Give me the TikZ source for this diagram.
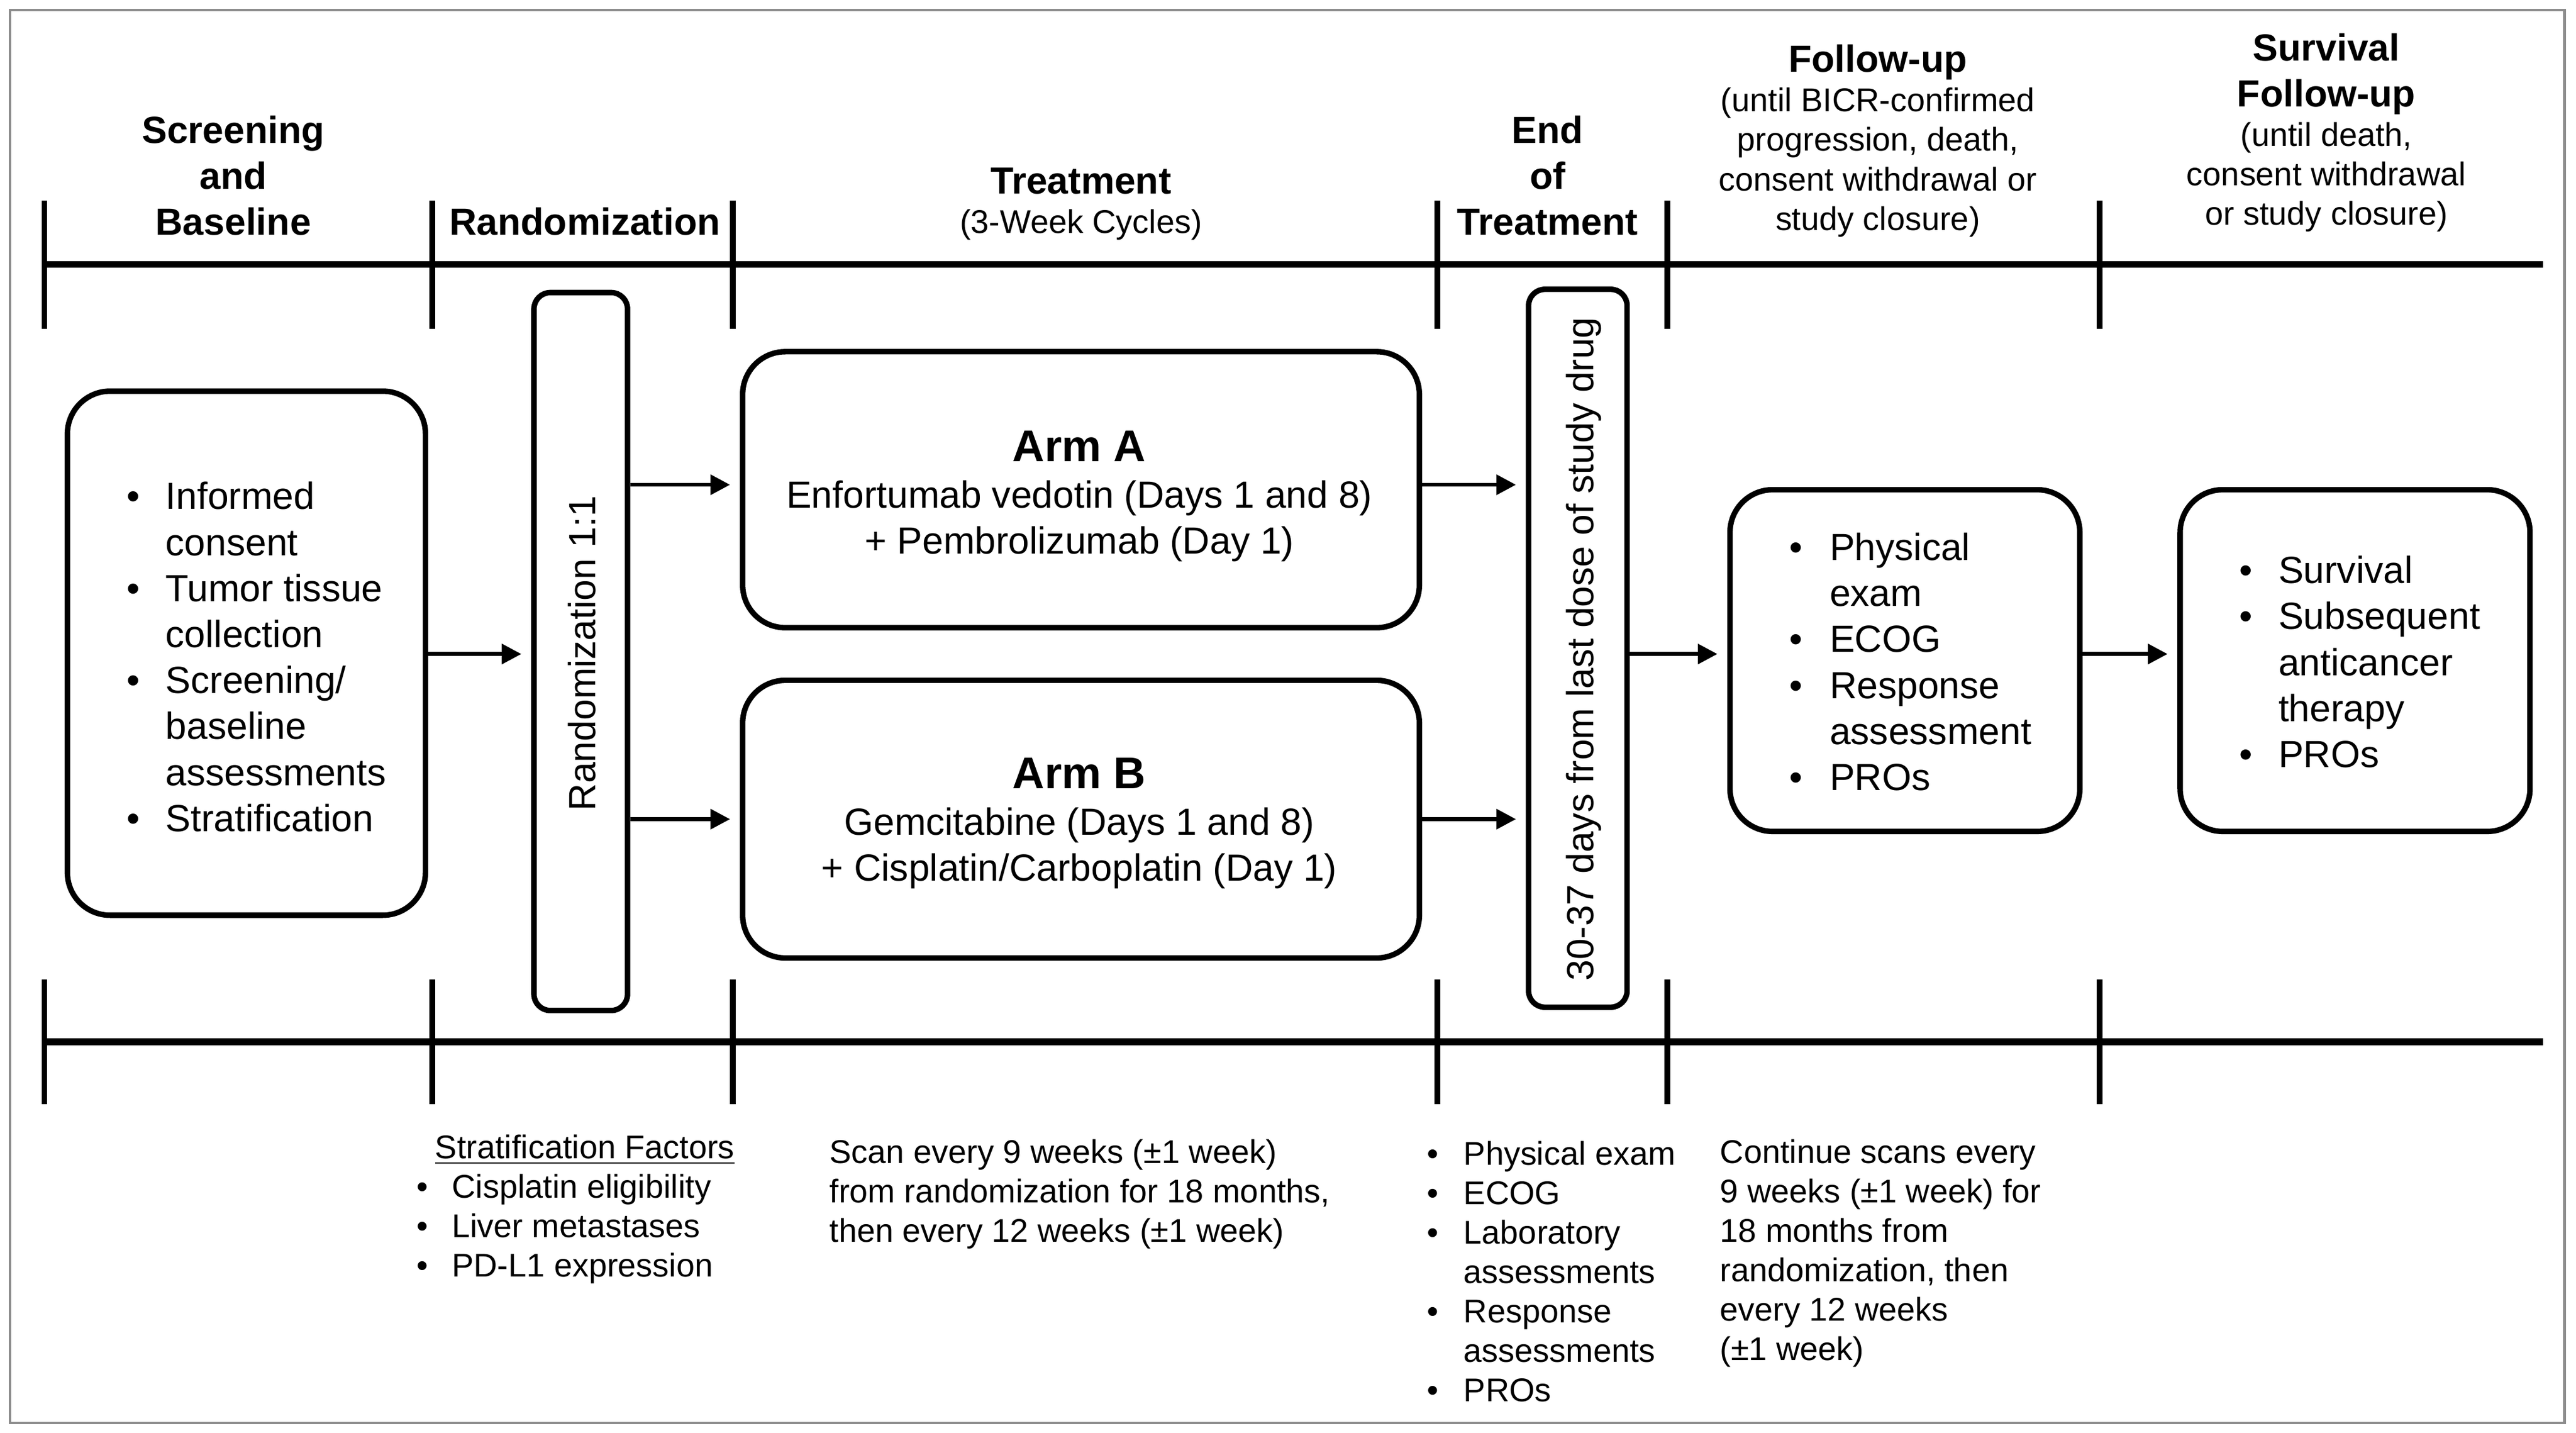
\documentclass[tikz,border=0pt]{standalone}
\usepackage{fontspec}
\setmainfont{Liberation Sans}
\usetikzlibrary{arrows.meta,calc}
\newcommand\fbig{\fontsize{13.09pt}{15.93pt}\selectfont}
\newcommand\fsml{\fontsize{11.38pt}{13.66pt}\selectfont}
\newcommand\farm{\fontsize{15.4pt}{15.93pt}\selectfont\bfseries}
\newcommand\ctab[1]{\begin{tabular}[t]{@{}c@{}}#1\end{tabular}}
\newcommand\ltab[1]{\begin{tabular}[t]{@{}l@{}}#1\end{tabular}}
\newcommand\btab[2]{\begin{tabular}[t]{@{}l@{\hspace{#1}}l@{}}#2\end{tabular}}
\newcommand\bu{\textbullet}
\begin{document}
\begin{tikzpicture}[x=0.02cm,y=-0.02cm,
  box/.style={draw=black,line width=1.9pt,rounded corners=0.52cm,inner sep=0pt},
  phasebar/.style={draw=black,line width=1.9pt,rounded corners=0.2cm,inner sep=0pt,minimum height=8.74cm},
  txt/.style={inner sep=0pt,outer sep=0pt,text=black},
  arr/.style={line width=1.4pt,-{Triangle[length=6.8pt,width=6.8pt]},shorten >=3.4pt},
  tline/.style={line width=2.3pt},
  tickmark/.style={line width=2pt}]
\useasboundingbox (0,0) rectangle (1568,872);
\draw[line width=0.9pt,draw=black!45] (6,6) rectangle (1561,866);
% timelines
\foreach \x in {27,263,446,875,1015,1278}{
  \draw[tickmark] (\x,122) -- (\x,200);
  \draw[tickmark] (\x,596) -- (\x,672);
}
\draw[tline] (27,161) -- (1548,161);
\draw[tline] (27,634) -- (1548,634);
% headers
\node[txt,anchor=base] (hscr) at (142,87) {\fbig\bfseries\ctab{Screening\\and\\Baseline}};
\node[txt,anchor=base] (hrnd) at (356,143) {\fbig\bfseries Randomization};
\node[txt,anchor=base] (htrt) at (658,118) {\fsml\ctab{{\fbig\bfseries Treatment}\\(3-Week Cycles)}};
\node[txt,anchor=base] (heot) at (942,87) {\fbig\bfseries\ctab{End\\of\\Treatment}};
\node[txt,anchor=base] (hfu) at (1143,44) {\fsml\ctab{{\fbig\bfseries Follow-up}\\(until BICR-confirmed\\progression, death,\\consent withdrawal or\\study closure)}};
\node[txt,anchor=base] (hsv) at (1416,37) {\fsml\ctab{{\fbig\bfseries Survival}\\[2.3pt]{\fbig\bfseries Follow-up}\\(until death,\\consent withdrawal\\or study closure)}};
% boxes
\node[box,minimum width=4.36cm,minimum height=6.38cm] (scr) at (150,397.5) {};
\node[phasebar,minimum width=1.14cm] (rnd) at (353.5,396.5) {};
\node[box,minimum width=8.24cm,minimum height=3.36cm] (arma) at (658,298) {};
\node[box,minimum width=8.24cm,minimum height=3.38cm] (armb) at (658,498.5) {};
\node[phasebar,minimum width=1.2cm] (eot) at (960.4,394.5) {};
\node[box,minimum width=4.26cm,minimum height=4.16cm] (fu) at (1159.5,402) {};
\node[box,minimum width=4.26cm,minimum height=4.16cm] (sv) at (1433.5,402) {};
% box texts
\node[txt,anchor=base west] (tscr) at (77,310) {\fbig\btab{9pt}{\bu & Informed\\ & consent\\ \bu & Tumor tissue\\ & collection\\ \bu & Screening/\\ & baseline\\ & assessments\\ \bu & Stratification}};
\node[txt,rotate=90,anchor=base] (trnd) at (362.5,397.5) {\fbig Randomization 1:1};
\node[txt,anchor=base] (ta) at (657,281) {\fbig\ctab{{\farm Arm A}\\Enfortumab vedotin (Days 1 and 8)\\+ Pembrolizumab (Day 1)}};
\node[txt,anchor=base] (tb) at (657,480) {\fbig\ctab{{\farm Arm B}\\Gemcitabine (Days 1 and 8)\\+ Cisplatin/Carboplatin (Day 1)}};
\node[txt,rotate=90,anchor=base] (teot) at (970,395) {\fbig 30-37 days from last dose of study drug};
\node[txt,anchor=base west] (tfu) at (1089,341) {\fbig\btab{9.5pt}{\bu & Physical\\ & exam\\ \bu & ECOG\\ \bu & Response\\ & assessment\\ \bu & PROs}};
\node[txt,anchor=base west] (tsv) at (1363,355) {\fbig\btab{9pt}{\bu & Survival\\ \bu & Subsequent\\ & anticancer\\ & therapy\\ \bu & PROs}};
% arrows
\coordinate (ya) at (0,398);
\coordinate (yb) at (0,295);
\draw[arr] (scr.east |- ya) -- (rnd.west |- ya);
\draw[arr] (rnd.east |- yb) -- (arma.west |- yb);
\draw[arr] (rnd.east |- armb.west) -- (armb.west);
\draw[arr] (arma.east |- yb) -- (eot.west |- yb);
\draw[arr] (armb.east) -- (eot.west |- armb.east);
\draw[arr] (eot.east |- ya) -- (fu.west |- ya);
\draw[arr] (fu.east |- ya) -- (sv.west |- ya);
% bottom texts
\node[txt,anchor=base] (sfh) at (356,705) {\fsml\underline{Stratification Factors}};
\node[txt,anchor=base west] (sfl) at (253.5,729) {\fsml\btab{8.3pt}{\bu & Cisplatin eligibility\\ \bu & Liver metastases\\ \bu & PD-L1 expression}};
\node[txt,anchor=base west] (scan) at (505,708) {\fsml\ltab{Scan every 9 weeks (±1 week)\\from randomization for 18 months,\\then every 12 weeks (±1 week)}};
\node[txt,anchor=base west] (eotl) at (868.5,709) {\fsml\btab{8.8pt}{\bu & Physical exam\\ \bu & ECOG\\ \bu & Laboratory\\ & assessments\\ \bu & Response\\ & assessments\\ \bu & PROs}};
\node[txt,anchor=base west] (fus) at (1047,708) {\fsml\ltab{Continue scans every\\9 weeks (±1 week) for\\18 months from\\randomization, then\\every 12 weeks\\(±1 week)}};
\end{tikzpicture}
\end{document}
